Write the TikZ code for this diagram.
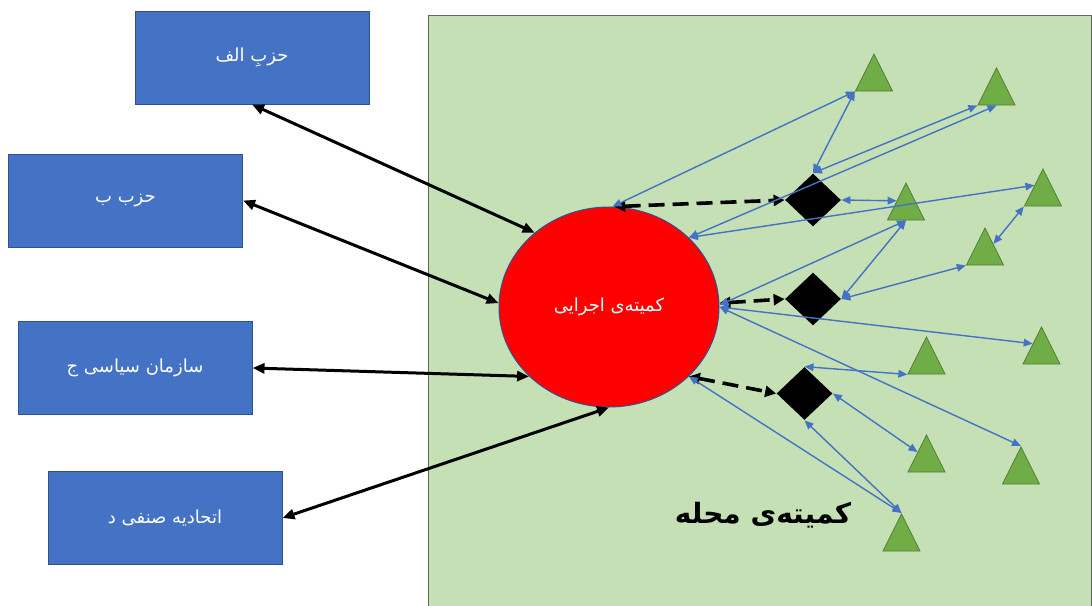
\documentclass[tikz,border=0pt]{standalone}
\usepackage{fontspec}
\usetikzlibrary{shapes.geometric,arrows.meta,calc}
\newfontfamily\arabicfont[Script=Arabic]{DejaVu Sans}
\TeXXeTstate=1
\definecolor{boxblue}{HTML}{4472C4}
\definecolor{boxedge}{HTML}{2F528F}
\definecolor{areagreen}{HTML}{C5E0B4}
\definecolor{areaedge}{HTML}{5B6B5B}
\definecolor{trigreen}{HTML}{70AD47}
\definecolor{triedge}{HTML}{507E32}
\definecolor{linkblue}{HTML}{4472C4}
\tikzset{
  party/.style={draw=boxedge,fill=boxblue,line width=0.5pt,minimum width=117pt,minimum height=46.5pt,inner sep=0pt,text=white,font=\arabicfont\fontsize{9}{11}\selectfont},
  zone/.style={draw=areaedge,fill=areagreen,line width=0.5pt,minimum width=331.5pt,minimum height=296pt,inner sep=0pt},
  exec/.style={ellipse,draw=boxedge,fill=red,line width=0.5pt,minimum width=110pt,minimum height=100pt,inner sep=0pt,text=white,font=\arabicfont\fontsize{9}{11}\selectfont},
  diam/.style={diamond,fill=black,minimum width=28pt,minimum height=26.5pt,inner sep=0pt},
  tri/.style={isosceles triangle,isosceles triangle stretches,shape border rotate=90,fill=trigreen,draw=triedge,line width=0.4pt,minimum width=18.5pt,minimum height=18.5pt,inner sep=0pt,anchor=apex},
  bigarrow/.style={draw=black,line width=1.5pt,{Triangle[length=6pt,width=5pt]}-{Triangle[length=6pt,width=5pt]}},
  dasharrow/.style={draw=black,line width=1.8pt,dash pattern=on 8pt off 4pt,{Triangle[length=5.5pt,width=5.5pt]}-{Triangle[length=5.5pt,width=5.5pt]}},
  link/.style={draw=linkblue,line width=0.7pt,{Triangle[length=4.5pt,width=3.8pt]}-{Triangle[length=4.5pt,width=3.8pt]}},
  title/.style={font=\arabicfont\bfseries\fontsize{14}{17}\selectfont,text=black,inner sep=0pt}
}
\begin{document}
\begin{tikzpicture}[x=0.5pt,y=-0.5pt]
\useasboundingbox (0,0) rectangle (1092,605);
\node[zone] (area) at (759.5,311) {};
% boxes
\node[party] (pa) at (252,57.5) {\beginR حزبِ الف\endR};
\node[party] (pb) at (125.5,200.5) {\beginR حزب ب\endR};
\node[party] (pc) at (135,368) {\beginR سازمان سیاسی ج\endR};
\node[party] (pd) at (165,518) {\beginR اتحادیه صنفی د\endR};
% executive committee
\node[exec] (ex) at (609,307) {\beginR کمیته^^^^200cی اجرایی\endR};
% diamonds
\node[diam] (d1) at (813,200) {};
\node[diam] (d2) at (813,299) {};
\node[diam] (d3) at (804.5,393.5) {};
% triangles
\node[tri] (t1) at (874,53) {};
\node[tri] (t2) at (996.5,67) {};
\node[tri] (t3) at (906,182) {};
\node[tri] (t4) at (1043,168) {};
\node[tri] (t5) at (985,227) {};
\node[tri] (t6) at (1041.5,326) {};
\node[tri] (t7) at (926.5,336) {};
\node[tri] (t8) at (926.5,434) {};
\node[tri] (t9) at (1021,446) {};
\node[tri] (t10) at (901.5,513) {};
% label
\node[title] (lbl) at (763,515) {\beginR کمیته^^^^200cی محله\endR};
% black arrows
\draw[bigarrow] (pa.south) -- (ex.135);
\draw[bigarrow] (pb.east) -- (ex.178);
\draw[bigarrow] (pc.east) -- (ex.221.5);
\draw[bigarrow] (pd.east) -- (ex.270);
% dashed arrows
\draw[dasharrow] (ex.87) -- (d1.west);
\draw[dasharrow] (ex.2) -- (d2.west);
\draw[dasharrow] (ex.319.5) -- (d3.west);
% blue links
\draw[link] (ex.88) -- (t1.left corner);
\draw[link] (t1.left corner) -- (d1.north);
\draw[link] (d1.north) -- (t2.left corner);
\draw[link] (ex.41.6) -- ($(t2.left corner)!0.5!(t2.right corner)$);
\draw[link] (d1.east) -- ($(t3.apex)!0.49!(t3.left corner)$);
\draw[link] (ex.41.6) -- ($(t4.apex)!0.45!(t4.left corner)$);
\draw[link] (t4.left corner) -- ($(t5.apex)!0.44!(t5.right corner)$);
\draw[link] (d2.east) -- ($(t3.left corner)!0.5!(t3.right corner)$);
\draw[link] (ex.1.5) -- ($(t3.left corner)!0.5!(t3.right corner)$);
\draw[link] (d2.east) -- (t5.left corner);
\draw[link] (ex.0.5) -- ($(t6.apex)!0.46!(t6.left corner)$);
\draw[link] (ex.0) -- (t9.apex);
\draw[link] (d3.north) -- (t7.left corner);
\draw[link] (d3.east) -- ($(t8.apex)!0.47!(t8.left corner)$);
\draw[link] (d3.south) -- (t10.apex);
\draw[link] (ex.319.5) -- (t10.apex);
\end{tikzpicture}
\end{document}
